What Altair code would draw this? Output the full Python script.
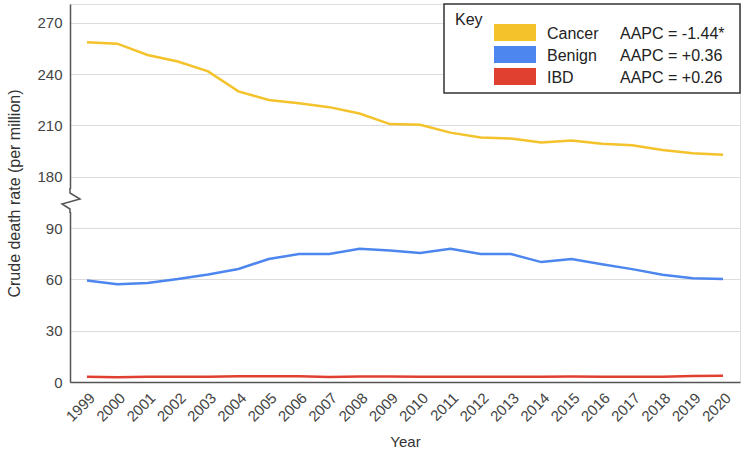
import altair as alt
import pandas as pd

years = list(range(1999, 2021))
cancer = [258.6, 257.8, 251.2, 247.4, 241.6, 229.9, 224.9, 223.0, 220.7, 217.0, 210.8,
          210.4, 205.8, 203.0, 202.3, 200.0, 201.2, 199.3, 198.4, 195.7, 193.8, 192.8]
benign = [59.4, 57.1, 57.9, 60.2, 62.9, 66.1, 71.9, 74.8, 74.8, 77.9, 76.9,
          75.4, 77.9, 74.8, 74.8, 70.1, 71.9, 68.9, 66.0, 62.7, 60.6, 60.2]
ibd = [3.0, 2.8, 3.0, 3.0, 3.1, 3.3, 3.3, 3.3, 2.9, 3.2, 3.2,
       3.1, 3.1, 3.1, 3.1, 3.0, 3.2, 3.1, 3.1, 3.0, 3.5, 3.6]

series_names = ["Cancer", "Benign", "IBD"]
aapc_labels = ["AAPC = -1.44*", "AAPC = +0.36", "AAPC = +0.26"]
colors = ["#F4C22B", "#4D86EE", "#E0402F"]
y_ticks = [0, 30, 60, 90, 120, 150, 180, 210]  # display positions (upper band shifted by 60)
BREAK_SHIFT = 60

rows = []
for name, vals in zip(series_names, [cancer, benign, ibd]):
    for yr, v in zip(years, vals):
        rows.append({"year": str(yr), "series": name, "value": v,
                     "disp": v - BREAK_SHIFT if name == "Cancer" else v})
df = pd.DataFrame(rows)

FONT = "Liberation Sans"
color_scale = alt.Scale(domain=series_names, range=colors)

lines = alt.Chart(df).mark_line(strokeWidth=2.5).encode(
    x=alt.X("year:O", scale=alt.Scale(type="point", padding=0.56),
            axis=alt.Axis(title="Year", labelAngle=-45, labelFontSize=15, labelColor="#444",
                          labelFont=FONT, ticks=False, labelPadding=8, domainColor="#555",
                          domainWidth=1.5, grid=False, titleFont=FONT, titleFontSize=15,
                          titleFontWeight="normal", titleColor="#333", titleY=64,
                          titleBaseline="alphabetic")),
    y=alt.Y("disp:Q", scale=alt.Scale(domain=[0, 221], nice=False, zero=True),
            axis=alt.Axis(values=y_ticks,
                          labelExpr=f"datum.value >= 120 ? datum.value + {BREAK_SHIFT} : datum.value",
                          title="Crude death rate (per million)", ticks=False, labelPadding=8,
                          labelFontSize=15, labelColor="#444", labelFont=FONT,
                          domainColor="#555", domainWidth=1.5, gridColor="#dcdcdc",
                          titleFont=FONT, titleFontSize=16, titleFontWeight="normal",
                          titleColor="#333", titleX=-56, titleY=189, titleAngle=-90,
                          titleBaseline="middle", titleAlign="center")),
    color=alt.Color("series:N", scale=color_scale, legend=None),
    detail="series:N",
)

# axis break marker
cover_df = pd.DataFrame({"x1": [-4], "x2": [4], "y1": [185], "y2": [208]})
cover = alt.Chart(cover_df).mark_rect(color="white").encode(
    x=alt.X("x1:Q", scale=None, axis=None), x2="x2:Q",
    y=alt.Y("y1:Q", scale=None, axis=None), y2="y2:Q")
zz_df = pd.DataFrame({"px": [0, 0, 10, -8, 0, 0], "py": [184, 189, 195, 200, 205, 209],
                      "o": [0, 1, 2, 3, 4, 5]})
zigzag = alt.Chart(zz_df).mark_line(color="#555", strokeWidth=1.5).encode(
    x=alt.X("px:Q", scale=None, axis=None), y=alt.Y("py:Q", scale=None, axis=None),
    order="o:Q")

# custom key box
leg_df = pd.DataFrame({"series": series_names, "aapc": aapc_labels, "row": [0, 1, 2]})
box_df = pd.DataFrame({"x1": [374], "x2": [670], "y1": [0], "y2": [89]})
box = alt.Chart(box_df).mark_rect(fill="white", stroke="#333", strokeWidth=1.5).encode(
    x=alt.X("x1:Q", scale=None, axis=None), x2="x2:Q",
    y=alt.Y("y1:Q", scale=None, axis=None), y2="y2:Q")
key_title = alt.Chart(pd.DataFrame({"t": ["Key"]})).mark_text(
    font=FONT, fontSize=16, color="#222", align="left", baseline="alphabetic").encode(
    text="t:N", x=alt.value(385), y=alt.value(21))
base_leg = alt.Chart(leg_df).transform_calculate(
    sy1="20 + 22*datum.row", sy2="37 + 22*datum.row", ty="35 + 22*datum.row")
swatches = base_leg.mark_rect().encode(
    x=alt.value(424), x2=alt.value(466),
    y=alt.Y("sy1:Q", scale=None, axis=None), y2="sy2:Q",
    color=alt.Color("series:N", scale=color_scale, legend=None))
names = base_leg.mark_text(font=FONT, fontSize=16, color="#222", align="left",
                           baseline="alphabetic").encode(
    x=alt.value(477), y=alt.Y("ty:Q", scale=None, axis=None), text="series:N")
aapcs = base_leg.mark_text(font=FONT, fontSize=16, color="#222", align="left",
                           baseline="alphabetic").encode(
    x=alt.value(550), y=alt.Y("ty:Q", scale=None, axis=None), text="aapc:N")

chart = alt.layer(lines, cover, zigzag, box, key_title, swatches, names, aapcs).resolve_scale(
    x="independent", y="independent"
).properties(
    width=670, height=378,
    autosize=alt.AutoSizeParams(type="none"),
    padding={"left": 70, "top": 4, "right": 9, "bottom": 76},
).configure_view(stroke=None).configure(background="white")

chart.save("out.html", embed_options={"renderer": "svg", "actions": False})
